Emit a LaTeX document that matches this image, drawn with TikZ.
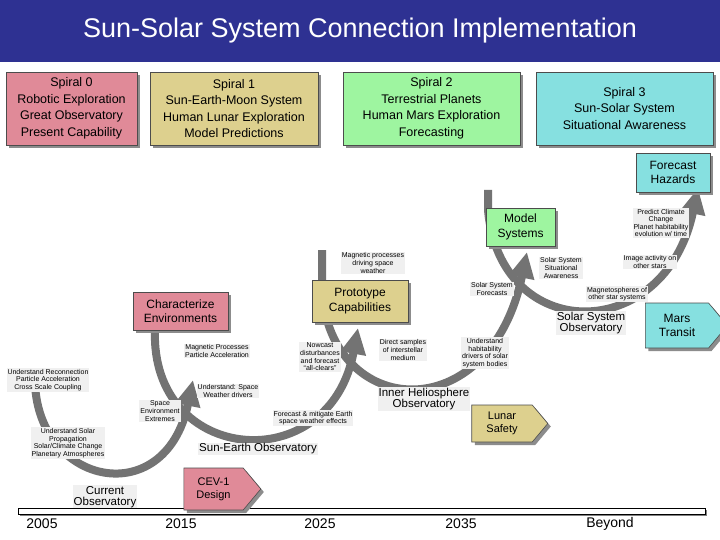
\documentclass[tikz,border=0pt]{standalone}
\usepackage{fontspec}
\setmainfont{Liberation Sans}
\usetikzlibrary{arrows.meta,shapes.symbols,shadows}
\definecolor{ttl}{HTML}{2E3192}
\definecolor{cpink}{HTML}{E08A98}
\definecolor{ctan}{HTML}{DDD08E}
\definecolor{cgreen}{HTML}{9EF5A0}
\definecolor{ccyan}{HTML}{86E0E0}
\begin{document}
\begin{tikzpicture}[x=1pt,y=-1pt,
  box/.style={draw=black!70,line width=0.6pt,align=center,inner sep=1pt,font=\fontsize{12}{14.5}\selectfont,
    drop shadow={shadow xshift=3pt,shadow yshift=-3pt,fill=black!45,opacity=1}},
  sbox/.style={box,minimum height=73pt,font=\fontsize{12.5}{16.5}\selectfont},
  sig/.style={box,signal,signal to=east,signal pointer angle=100},
  lab/.style={fill=black!6,align=center,inner sep=1pt,font=\fontsize{7}{7.6}\selectfont},
  big/.style={fill=black!6,align=center,inner sep=1pt,font=\fontsize{11.5}{11}\selectfont},
  loop/.style={line width=8pt,draw=black!55,-{Triangle[length=26pt,width=24pt]}},
  yr/.style={font=\fontsize{14}{16}\selectfont}]
\useasboundingbox (0,0) rectangle (720,540);
\fill[white] (0,0) rectangle (720,540);
\fill[ttl] (0,0) rectangle (720,62);
\node[text=white,font=\fontsize{27}{30}\selectfont] (title) at (360,31) {Sun-Solar System Connection Implementation};
% spiral boxes
\node[sbox,fill=cpink,minimum width=131pt] (s0) at (71.5,108.5) {Spiral 0\\Robotic Exploration\\Great Observatory\\Present Capability};
\node[sbox,fill=ctan,minimum width=168pt] (s1) at (234,108.5) {Spiral 1\\Sun-Earth-Moon System\\Human Lunar Exploration\\Model Predictions};
\node[sbox,fill=cgreen,minimum width=177pt] (s2) at (431.5,108.5) {Spiral 2\\Terrestrial Planets\\Human Mars Exploration\\Forecasting};
\node[sbox,fill=ccyan,minimum width=177pt] (s3) at (624.5,108.5) {Spiral 3\\Sun-Solar System\\Situational Awareness};
% loops
\coordinate (a1) at (35,372); \coordinate (b1) at (193,380);
\coordinate (a2) at (155,330); \coordinate (b2) at (358,328);
\coordinate (a3) at (322,250); \coordinate (b3) at (527,252);
\coordinate (a4) at (488,190); \coordinate (b4) at (698,188);
\draw[loop] (a1) .. controls (30,485) and (165,515) .. (b1);
\draw[loop] (a2) .. controls (150,465) and (330,480) .. (b2);
\draw[loop] (a3) -- (322,290) .. controls (330,420) and (490,430) .. (b3);
\draw[loop] (a4) -- (488,210) .. controls (500,345) and (665,345) .. (b4);
% labels
\node[lab] (l1) at (373,263) {Magnetic processes\\driving space\\weather};
\node[lab] (l2) at (561,268) {Solar System\\Situational\\Awareness};
\node[lab] (l3) at (650,262) {Image activity on\\other stars};
\node[lab] (l4) at (661,223) {Predict Climate\\Change\\Planet habitability\\evolution w/ time};
\node[lab] (l5) at (492,289) {Solar System\\Forecasts};
\node[lab] (l6) at (617,294) {Magnetospheres of\\other star systems};
\node[lab] (l7) at (217,351) {Magnetic Processes\\Particle Acceleration};
\node[lab] (l8) at (320,357) {Nowcast\\disturbances\\and forecast\\“all-clears”};
\node[lab] (l9) at (403,350) {Direct samples\\of interstellar\\medium};
\node[lab] (l10) at (485,353) {Understand\\habitability\\drivers of solar\\system bodies};
\node[lab] (l11) at (48,380) {Understand Reconnection\\Particle Acceleration\\Cross Scale Coupling};
\node[lab] (l12) at (228,391) {Understand: Space\\Weather drivers};
\node[lab] (l13) at (160,411) {Space\\Environment\\Extremes};
\node[lab] (l14) at (313,418) {Forecast \& mitigate Earth\\space weather effects};
\node[lab] (l15) at (68,443) {Understand Solar\\Propagation\\Solar/Climate Change\\Planetary Atmospheres};
\node[big] (o1) at (591,323) {Solar System\\Observatory};
\node[big] (o2) at (424,399) {Inner Heliosphere\\Observatory};
\node[big] (o3) at (258,449) {Sun-Earth Observatory};
\node[big] (o4) at (105,497) {Current\\Observatory};
% milestone boxes
\node[box,fill=ccyan,minimum width=74pt,minimum height=39pt] (fh) at (673,172.5) {Forecast\\Hazards};
\node[box,fill=cgreen,minimum width=69pt,minimum height=38pt] (ms) at (520.5,227) {Model\\Systems};
\node[box,fill=ctan,minimum width=96pt,minimum height=42pt] (pc) at (360,301) {Prototype\\Capabilities};
\node[box,fill=cpink,minimum width=95pt,minimum height=38pt] (ce) at (180.5,311) {Characterize\\Environments};
\node[sig,fill=ccyan,minimum width=82pt,minimum height=45pt] (mt) at (677,325.5) {Mars\\Transit};
\node[sig,fill=ctan,minimum width=76pt,minimum height=37pt,font=\fontsize{11}{13}\selectfont] (ls) at (502,423.5) {Lunar\\Safety};
% timeline
\node[draw=black,fill=white,minimum width=687pt,minimum height=6pt,inner sep=0pt,
  drop shadow={shadow xshift=2pt,shadow yshift=-2pt,fill=black!50,opacity=1}] (tl) at (361.5,511) {};
\node[sig,fill=cpink,minimum width=77pt,minimum height=42pt,font=\fontsize{11}{13}\selectfont] (cev) at (213.5,489) {CEV-1\\Design};
\node[yr] (y1) at (42,524) {2005};
\node[yr] (y2) at (181,524) {2015};
\node[yr] (y3) at (320,524) {2025};
\node[yr] (y4) at (461,524) {2035};
\node[yr] (y5) at (610,524) {Beyond};
\end{tikzpicture}
\end{document}
